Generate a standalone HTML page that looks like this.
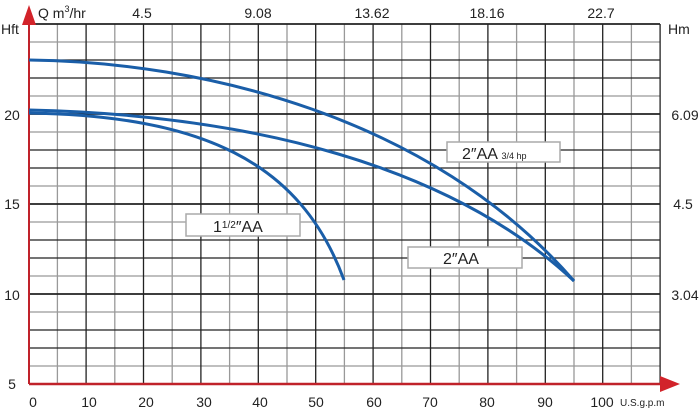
<!DOCTYPE html>
<html><head><meta charset="utf-8"><style>body{margin:0;background:#fff}svg{display:block;font-family:"Liberation Sans",sans-serif}</style></head><body>
<svg width="700" height="409" viewBox="0 0 700 409">
<path stroke="#999" stroke-width="1.3" fill="none" d="M57.4,24V384M114.8,24V384M172.2,24V384M229.6,24V384M287,24V384M344.4,24V384M401.8,24V384M459.2,24V384M516.6,24V384M574,24V384M631.4,24V384
M29,366H660M29,312H660M29,276H660M29,222H660M29,186H660M29,132H660M29,96H660M29,42H660"/>
<path stroke="#222" stroke-width="1.3" fill="none" d="M86.1,24V384M143.5,24V384M200.9,24V384M258.3,24V384M315.7,24V384M373.1,24V384M430.5,24V384M487.9,24V384M545.3,24V384M602.7,24V384M660.1,24V384
M29,348H660M29,330H660M29,258H660M29,240H660M29,168H660M29,150H660M29,78H660M29,60H660"/>
<path stroke="#222" stroke-width="1.8" fill="none" d="M29,294H660M29,204H660M29,114H660M29,24H660"/>
<line x1="29" y1="384" x2="664" y2="384" stroke="#c0222a" stroke-width="2.5"/>
<polygon points="660,376 680,384 660,392" fill="#d2232a"/>
<line x1="29" y1="384" x2="29" y2="20" stroke="#c0222a" stroke-width="2"/>
<polygon points="22,25 29,5 36,25" fill="#d2232a"/>
<g fill="none" stroke="#1a5ea8" stroke-width="3">
<path d="M29,60 C200,62 430,115 574,281"/>
<path d="M29,110 C250,115 450,165 574,281"/>
<path d="M29,113 C200,116 300,160 344,280"/>
</g>
<g fill="#fff" stroke="#aaa" stroke-width="1.5">
<rect x="447" y="142" width="113" height="20"/>
<rect x="186" y="214" width="114" height="22"/>
<rect x="408" y="247" width="114" height="21"/>
</g>
<g font-size="16" fill="#222">
<text x="462" y="159">2″AA <tspan font-size="9">3/4 hp</tspan></text>
<text x="213" y="232">1<tspan font-size="10" dy="-4">1/2</tspan><tspan dy="4">″AA</tspan></text>
<text x="443" y="264">2″AA</text>
</g>
<g font-size="14" fill="#222" text-anchor="middle">
<text x="33" y="407">0</text><text x="89" y="407">10</text><text x="146" y="407">20</text><text x="204" y="407">30</text><text x="260" y="407">40</text><text x="316" y="407">50</text><text x="374" y="407">60</text><text x="430" y="407">70</text><text x="487" y="407">80</text><text x="545" y="407">90</text><text x="602" y="407">100</text>
<text x="142" y="18">4.5</text><text x="258" y="18">9.08</text><text x="372" y="18">13.62</text><text x="487" y="18">18.16</text><text x="601" y="18">22.7</text>
<text x="12" y="120">20</text><text x="12" y="209">15</text><text x="12" y="300">10</text><text x="12" y="389">5</text>
<text x="685" y="120">6.09</text><text x="683" y="209">4.5</text><text x="685" y="300">3.04</text>
</g>
<text x="38" y="18" font-size="14" fill="#222">Q m<tspan font-size="9" dy="-6">3</tspan><tspan dy="6">/hr</tspan></text>
<text x="1" y="34" font-size="14" fill="#222">Hft</text>
<text x="668" y="34" font-size="14" fill="#222">Hm</text>
<text x="620" y="406" font-size="10" fill="#222">U.S.g.p.m</text>
</svg>
</body></html>
